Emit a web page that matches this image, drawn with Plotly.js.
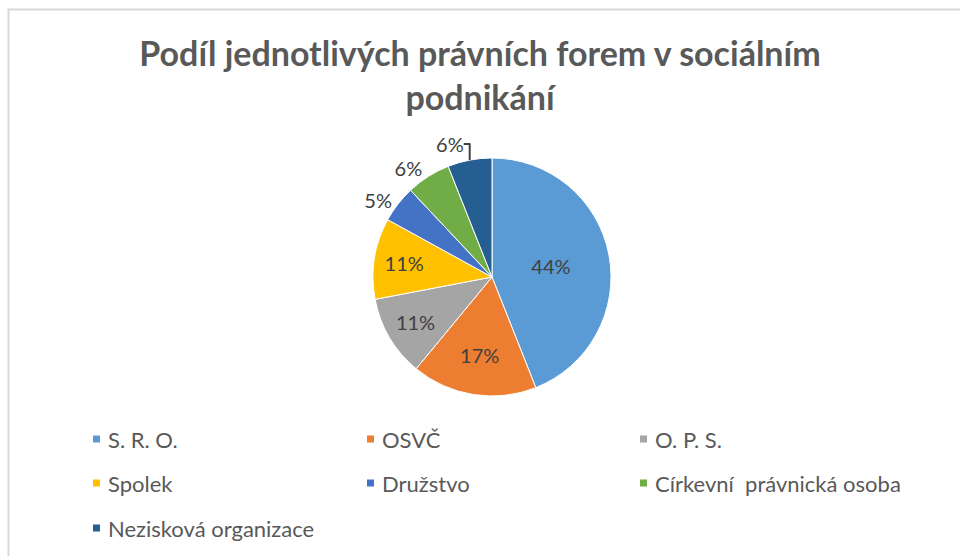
<!DOCTYPE html>
<html>
<head>
<meta charset="utf-8">
<script src="https://cdn.plot.ly/plotly-3.0.1.min.js"></script>
<style>
html,body{margin:0;padding:0;background:#fff;}
#chart{width:960px;height:556px;}
</style>
</head>
<body>
<div id="chart"></div>
<script>
var categories = ["S. R. O.", "OSVČ", "O. P. S.", "Spolek", "Družstvo", "Církevní  právnická osoba", "Nezisková organizace"];
var shares = [44, 17, 11, 11, 5, 6, 6];
var sliceColors = ["#5B9BD5", "#ED7D31", "#A5A5A5", "#FFC000", "#4472C4", "#70AD47", "#255E91"];
var titleText = "Podíl jednotlivých právních forem v sociálním<br>podnikání";

var W = 960, H = 556;
var FONT = "Lato, 'DejaVu Sans', sans-serif";
function px(x){ return x / W; }
function py(y){ return 1 - y / H; }

var trace = {
  type: "pie",
  labels: categories,
  values: shares,
  sort: false,
  direction: "clockwise",
  rotation: 0,
  marker: {colors: sliceColors, line: {color: "#ffffff", width: 1}},
  texttemplate: "%{percent:.0%}",
  textposition: ["inside", "inside", "inside", "inside", "outside", "outside", "outside"],
  textfont: {family: FONT, size: 20, color: "#404040"},
  insidetextorientation: "horizontal",
  hoverinfo: "label+percent",
  showlegend: false,
  domain: {x: [0.025, 1], y: [py(396), py(158)]}
};

// legend drawn as annotations + small square shapes, laid out in 3 columns
var legendColX = [93, 367, 640];
var legendRowY = [439, 483, 528];
var annotations = [];
var shapes = [{
  type: "rect", xref: "paper", yref: "paper",
  x0: px(8.5), x1: 1.05, y0: -0.05, y1: py(9.5),
  line: {color: "#d9d9d9", width: 2}, fillcolor: "rgba(0,0,0,0)", layer: "below"
}];
categories.forEach(function(name, i){
  var cx = legendColX[i % 3], cy = legendRowY[Math.floor(i / 3)];
  shapes.push({
    type: "rect", xref: "paper", yref: "paper",
    x0: px(cx), x1: px(cx + 7), y0: py(cy + 3.5), y1: py(cy - 3.5),
    line: {width: 0}, fillcolor: sliceColors[i]
  });
  annotations.push({
    xref: "paper", yref: "paper",
    x: px(cx + 13), y: py(cy), xanchor: "left", yanchor: "middle",
    text: name, showarrow: false,
    font: {family: FONT, size: 22, color: "#595959"}
  });
});

var layout = {
  width: W, height: H,
  margin: {l: 0, r: 0, t: 0, b: 0},
  paper_bgcolor: "#ffffff",
  title: {
    text: titleText,
    font: {family: FONT, size: 34, color: "#595959", weight: "bold"},
    x: 0.5, xanchor: "center",
    y: py(66), yanchor: "top"
  },
  showlegend: false,
  shapes: shapes,
  annotations: annotations
};

Plotly.newPlot("chart", [trace], layout, {displayModeBar: false, staticPlot: true});
</script>
</body>
</html>
